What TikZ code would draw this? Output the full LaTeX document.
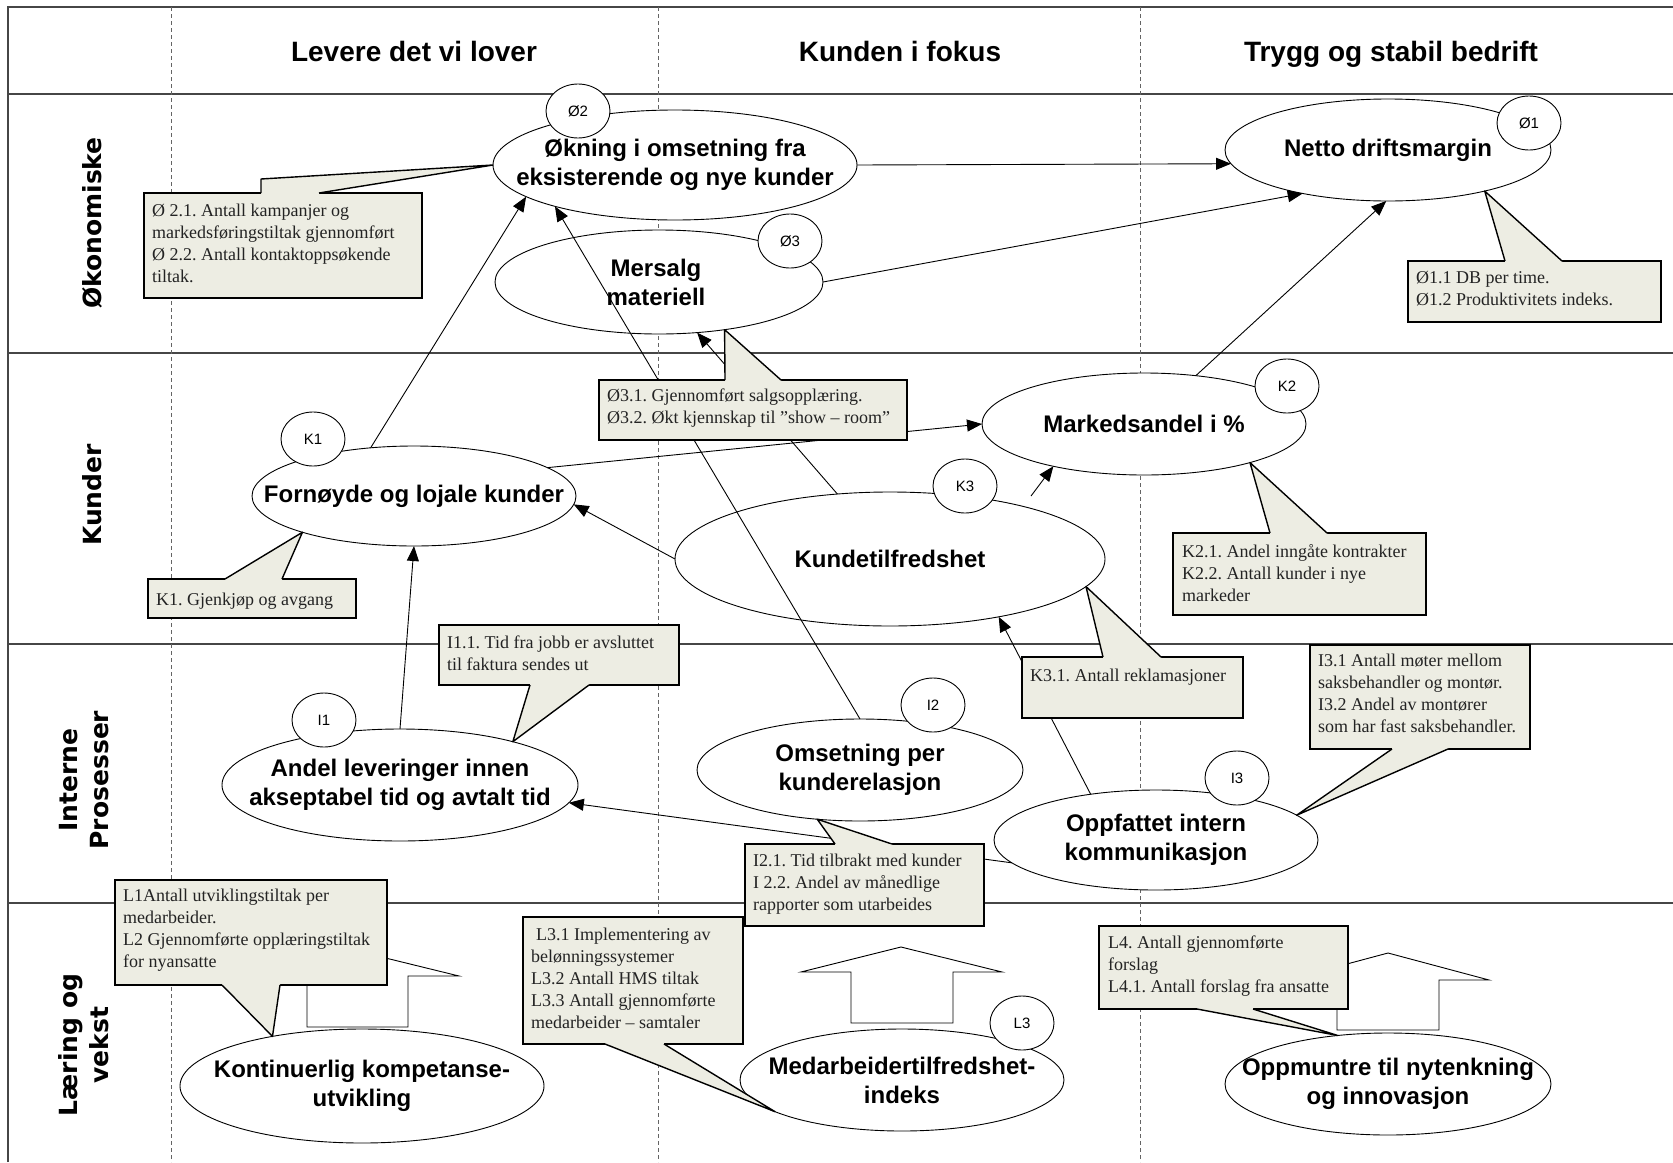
\documentclass[tikz,border=0pt]{standalone}
\usepackage{fontspec}
\setmainfont{Liberation Serif}
\newfontfamily\arialfont{Liberation Sans}
\newfontfamily\dejavufont{DejaVu Sans}
\usetikzlibrary{arrows.meta,shapes.geometric}
\frenchspacing

\definecolor{notefill}{RGB}{237,237,227}
\definecolor{gridgray}{RGB}{70,70,70}
\definecolor{dashgray}{RGB}{100,100,100}
\definecolor{notegray}{RGB}{35,35,35}

\tikzset{
  gridrule/.style={draw=gridgray, line width=1.1pt},
  colrule/.style={draw=dashgray, line width=0.8pt, dash pattern=on 4pt off 3pt},
  headtext/.style={anchor=base, inner sep=0pt, font=\arialfont\bfseries\fontsize{28}{34}\selectfont},
  rowlabel/.style={rotate=90, inner sep=0pt, align=center, font=\dejavufont\bfseries\fontsize{25}{31}\selectfont},
  goal/.style={ellipse, draw=black, fill=white, line width=0.9pt, inner sep=0pt, outer sep=0pt},
  goaltext/.style={inner sep=0pt, align=center, font=\arialfont\bfseries\fontsize{24}{29}\selectfont},
  tag/.style={ellipse, draw=black, fill=white, line width=0.9pt, minimum width=64pt, minimum height=54pt, inner sep=0pt, outer sep=0pt, font=\arialfont\fontsize{15}{18}\selectfont},
  link/.style={draw=black, line width=0.9pt, -{Triangle[length=15pt,width=12pt]}},
  blockarrow/.style={draw=black, fill=white, line width=0.9pt, line join=miter},
  notebox/.style={rectangle, draw=black, fill=notefill, line width=1.4pt, anchor=north west, inner sep=0pt, outer sep=0pt},
  notetext/.style={anchor=north west, inner sep=0pt, align=left, text=notegray, font=\fontsize{18}{22}\selectfont, execute at begin node={\rule{0pt}{14pt}}},
  noteedge/.style={draw=black, line width=1.4pt, line join=round},
}
% wedge of a callout: base points #1 and #2 on the box edge, tip #3, #4 = shift into the box
\newcommand{\calloutptr}[4]{%
  \fill[notefill] ([yshift=#4]#1) -- (#1) -- (#3) -- (#2) -- ([yshift=#4]#2) -- cycle;
  \draw[noteedge] (#1) -- (#3) -- (#2);}

\begin{document}
\begin{tikzpicture}[x=1pt,y=-1pt]
\useasboundingbox (0,0) rectangle (1673,1162);

% ---------- grid ----------
\draw[gridrule] (8,1162) -- (8,7) -- (1673,7);
\foreach \yy in {94,353,644,903} \draw[gridrule] (8,\yy) -- (1673,\yy);
\foreach \xx in {171,658,1140} \draw[colrule] (\xx,7) -- (\xx,1162);

% ---------- headers ----------
\node[headtext] (hcolA) at (414,61) {Levere det vi lover};
\node[headtext] (hcolB) at (900,61) {Kunden i fokus};
\node[headtext] (hcolC) at (1391,61) {Trygg og stabil bedrift};

\node[rowlabel] (rowEco)   at (92,223)  {Økonomiske};
\node[rowlabel] (rowCust)  at (92,495)  {Kunder};
\node[rowlabel] (rowProc)  at (84,780)  {Interne\\Prosesser};
\node[rowlabel] (rowLearn) at (84,1045) {Læring og\\vekst};

% ---------- block arrows in the learning row ----------
\draw[blockarrow] (307,1027) -- (307,976) -- (256,976) -- (357,951) -- (459,976) -- (408,976) -- (408,1027) -- cycle;
\draw[blockarrow] (851,1023) -- (851,972) -- (801,972) -- (901,947) -- (1002,972) -- (953,972) -- (953,1023) -- cycle;
\draw[blockarrow] (1337,1030) -- (1337,980) -- (1287,980) -- (1388,953) -- (1489,980) -- (1439,980) -- (1439,1030) -- cycle;

% ---------- goals ----------
\node[goal, minimum width=364pt, minimum height=110pt] (O2) at (675,165) {};
\node[goaltext] (O2t) at (O2.center) {Økning i omsetning fra\\eksisterende og nye kunder};
\node[goal, minimum width=326pt, minimum height=102pt] (O1) at (1388,150) {};
\node[goaltext] (O1t) at (O1.center) {Netto driftsmargin};
\node[goal, minimum width=328pt, minimum height=104pt] (O3) at (659,282) {};
\node[goaltext] (O3t) at (656,282) {Mersalg\\materiell};

\node[goal, minimum width=324pt, minimum height=100pt] (K1) at (414,496) {};
\node[goaltext] (K1t) at (K1.center) {Fornøyde og lojale kunder};
\node[goal, minimum width=324pt, minimum height=102pt] (K2) at (1144,424) {};
\node[goaltext] (K2t) at (K2.center) {Markedsandel i \%};
\node[goal, minimum width=430pt, minimum height=134pt] (K3) at (890,559) {};
\node[goaltext] (K3t) at (K3.center) {Kundetilfredshet};

\node[goal, minimum width=356pt, minimum height=112pt] (I1) at (400,785) {};
\node[goaltext] (I1t) at (I1.center) {Andel leveringer innen\\akseptabel tid og avtalt tid};
\node[goal, minimum width=326pt, minimum height=102pt] (I2) at (860,770) {};
\node[goaltext] (I2t) at (I2.center) {Omsetning per\\kunderelasjon};
\node[goal, minimum width=324pt, minimum height=100pt] (I3) at (1156,840) {};
\node[goaltext] (I3t) at (I3.center) {Oppfattet intern\\kommunikasjon};

\node[goal, minimum width=364pt, minimum height=114pt] (L1) at (362,1086) {};
\node[goaltext] (L1t) at (L1.center) {Kontinuerlig kompetanse-\\utvikling};
\node[goal, minimum width=324pt, minimum height=102pt] (L3) at (902,1080) {};
\node[goaltext] (L3t) at (L3.center) {Medarbeidertilfredshet-\\indeks};
\node[goal, minimum width=326pt, minimum height=102pt] (L4) at (1388,1084) {};
\node[goaltext] (L4t) at (L4.center) {Oppmuntre til nytenkning\\og innovasjon};

% ---------- cause and effect links ----------
\coordinate (k3up) at (1031,496);
\draw[link] (O2.east) -- (O1.185);
\draw[link] (O3.east) -- (O1.207);
\draw[link] (K2.43) -- (O1.268);
\draw[link] (K1.132) -- (O2.192);
\draw[link] (I2.north) -- (O2.199);
\draw[link] (K3.129) -- (O3.307);
\draw[link] (K1.12) -- (K2.west);
\draw[link] (K3.west) -- (K1.-3);
\draw[link] (k3up) -- (K2.205);
\draw[link] (I1.north) -- (K1.south);
\draw[link] (I3.189) -- (I1.-6);
\draw[link] (I3.145) -- (K3.-28);

% ---------- id tags ----------
\node[tag] (tO2) at (578,111)   {Ø2};
\node[tag] (tO1) at (1529,123)  {Ø1};
\node[tag] (tO3) at (790,241)   {Ø3};
\node[tag] (tK1) at (313,439)   {K1};
\node[tag] (tK2) at (1287,386)  {K2};
\node[tag] (tK3) at (965,486)   {K3};
\node[tag] (tI1) at (324,720)   {I1};
\node[tag] (tI2) at (933,705)   {I2};
\node[tag] (tI3) at (1237,778)  {I3};
\node[tag] (tL3) at (1022,1023) {L3};

% ---------- measures (callouts) ----------
\node[notebox, minimum width=278pt, minimum height=105pt] (cO2) at (144,193) {};
\fill[notefill] (261,195) -- (261,179) -- (O2.180) -- (319,193) -- (319,195) -- cycle;
\draw[noteedge] (261,193) -- (261,179) -- (O2.180) -- (319,193);
\node[notetext] (cO2t) at (152,204) {Ø 2.1. Antall kampanjer og\\markedsføringstiltak gjennomført\\Ø 2.2. Antall kontaktoppsøkende\\tiltak.};

\node[notebox, minimum width=253pt, minimum height=61pt] (cO1) at (1408,261) {};
\calloutptr{1505,261}{1562,261}{O1.-23}{-2pt}
\node[notetext] (cO1t) at (1416,271) {Ø1.1 DB per time.\\Ø1.2 Produktivitets indeks.};

\node[notebox, minimum width=308pt, minimum height=60pt] (cO3) at (599,380) {};
\calloutptr{725,380}{781,380}{O3.-36}{-2pt}
\node[notetext] (cO3t) at (607,389) {Ø3.1. Gjennomført salgsopplæring.\\Ø3.2. Økt kjennskap til ”show – room”};

\node[notebox, minimum width=208pt, minimum height=39pt] (cK1) at (148,579) {};
\calloutptr{225,579}{282,579}{K1.198}{-2pt}
\node[notetext] (cK1t) at (156,591) {K1. Gjenkjøp og avgang};

\node[notebox, minimum width=253pt, minimum height=82pt] (cK2) at (1173,533) {};
\calloutptr{1270,533}{1327,533}{K2.-20}{-2pt}
\node[notetext] (cK2t) at (1182,544) {K2.1. Andel inngåte kontrakter\\K2.2. Antall kunder i nye\\markeder};

\node[notebox, minimum width=221pt, minimum height=61pt] (cK3) at (1022,657) {};
\calloutptr{1103,657}{1161,657}{K3.-8}{-2pt}
\node[notetext] (cK3t) at (1030,667) {K3.1. Antall reklamasjoner};

\node[notebox, minimum width=240pt, minimum height=60pt] (cI1) at (439,625) {};
\calloutptr{530,685}{589,685}{I1.21}{2pt}
\node[notetext] (cI1t) at (447,636) {I1.1. Tid fra jobb er avsluttet\\til faktura sendes ut};

\node[notebox, minimum width=239pt, minimum height=82pt] (cI2) at (745,844) {};
\calloutptr{835,844}{892,844}{I2.229}{-2pt}
\node[notetext] (cI2t) at (753,854) {I2.1. Tid tilbrakt med kunder\\I 2.2. Andel av månedlige\\rapporter som utarbeides};

\node[notebox, minimum width=220pt, minimum height=104pt] (cI3) at (1310,645) {};
\calloutptr{1392,749}{1448,749}{I3.10}{2pt}
\node[notetext] (cI3t) at (1318,654) {I3.1 Antall møter mellom\\saksbehandler og montør.\\I3.2 Andel av montører\\som har fast saksbehandler.};

\node[notebox, minimum width=272pt, minimum height=105pt] (cL1) at (115,880) {};
\calloutptr{222,985}{280,985}{L1.151}{2pt}
\node[notetext] (cL1t) at (123,889) {L1Antall utviklingstiltak per\\medarbeider.\\L2 Gjennomførte opplæringstiltak\\for nyansatte};

\node[notebox, minimum width=220pt, minimum height=127pt] (cL3) at (523,917) {};
\calloutptr{605,1044}{664,1044}{L3.194}{2pt}
\node[notetext] (cL3t) at (531,928) {\hspace*{5pt}L3.1 Implementering av\\belønningssystemer\\L3.2 Antall HMS tiltak\\L3.3 Antall gjennomførte\\medarbeider – samtaler};

\node[notebox, minimum width=249pt, minimum height=83pt] (cL4) at (1099,926) {};
\calloutptr{1197,1009}{1253,1009}{L4.136}{2pt}
\node[notetext] (cL4t) at (1108,936) {L4. Antall gjennomførte\\forslag\\L4.1. Antall forslag fra ansatte};

\end{tikzpicture}
\end{document}
